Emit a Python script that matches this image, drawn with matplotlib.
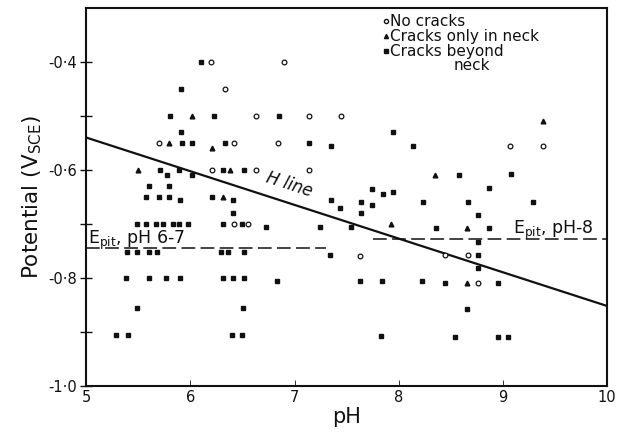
import matplotlib
matplotlib.use("Agg")
import matplotlib.pyplot as plt
from matplotlib.lines import Line2D

plt.rcParams['font.family'] = ['DejaVu Sans']

# ============================
# DATOS
# ============================
# Sin grietas (circulos abiertos)
ph_sin = [6.2, 6.9, 6.33, 6.63, 7.14, 7.45, 5.7, 6.42, 6.84, 6.21, 6.63, 7.14,
          6.42, 6.55, 7.63, 8.44, 8.66, 8.76, 9.07, 9.38]
v_sin = [-0.40, -0.40, -0.45, -0.50, -0.50, -0.50, -0.55, -0.55, -0.55, -0.60, -0.60, -0.60,
         -0.70, -0.70, -0.76, -0.757, -0.757, -0.81, -0.555, -0.555]

# Grietas solo en el cuello
ph_cuello = [6.02, 5.8, 6.21, 5.5, 6.38, 6.31, 7.93, 8.65, 8.65, 9.38, 8.35]
v_cuello = [-0.50, -0.55, -0.56, -0.60, -0.60, -0.65, -0.70, -0.707, -0.81, -0.51, -0.61]

# Grietas mas alla del cuello
ph_mas = [6.1, 5.91, 5.81, 6.23, 6.85, 5.91, 7.94,
          5.92, 6.02, 6.33, 7.14, 7.35, 8.14,
          5.71, 5.78, 5.89, 6.02, 6.31, 6.52, 8.58, 9.08,
          5.6, 5.8, 8.87, 7.74, 7.94, 7.85,
          5.58, 5.7, 5.8, 5.9, 6.21, 6.41,
          7.35, 7.44, 7.64, 7.74, 8.23, 8.66, 9.29,
          6.41, 7.64, 8.76,
          5.49, 5.58, 5.67, 5.74, 5.83, 5.89, 5.98, 6.31, 6.5, 6.73, 7.24, 7.54, 8.36, 8.87,
          8.76,
          5.39, 5.49, 5.6, 5.68, 6.29, 6.36, 6.52, 7.34, 8.76,
          8.76,
          5.38, 5.6, 5.77, 5.9, 6.31, 6.41, 6.52, 6.83, 7.63, 7.84, 8.22, 8.44, 8.95,
          5.49, 6.51, 8.65,
          5.29, 5.4, 6.4, 6.5, 7.83, 8.54, 8.95, 9.05]
v_mas = [-0.40, -0.45, -0.50, -0.50, -0.50, -0.53, -0.53,
         -0.55, -0.55, -0.55, -0.55, -0.555, -0.555,
         -0.60, -0.61, -0.60, -0.61, -0.60, -0.60, -0.61, -0.607,
         -0.63, -0.63, -0.633, -0.635, -0.64, -0.645,
         -0.65, -0.65, -0.65, -0.655, -0.65, -0.655,
         -0.655, -0.67, -0.66, -0.665, -0.66, -0.66, -0.66,
         -0.68, -0.68, -0.683,
         -0.70, -0.70, -0.70, -0.70, -0.70, -0.70, -0.70, -0.70, -0.70, -0.705, -0.705, -0.705, -0.707, -0.707,
         -0.733,
         -0.752, -0.752, -0.752, -0.752, -0.752, -0.752, -0.752, -0.757, -0.757,
         -0.781,
         -0.80, -0.80, -0.80, -0.80, -0.80, -0.80, -0.80, -0.805, -0.805, -0.805, -0.805, -0.81, -0.81,
         -0.855, -0.855, -0.857,
         -0.905, -0.905, -0.905, -0.905, -0.907, -0.909, -0.909, -0.909]

# Linea H y potenciales de picadura
ph_linea_h = [5, 10]
v_linea_h = [-0.54, -0.852]
ph_epit_67 = [5, 7.3]
v_epit_67 = [-0.744, -0.744]
ph_epit_8 = [7.75, 10]
v_epit_8 = [-0.727, -0.727]

ticks_x = [5, 6, 7, 8, 9, 10]
ticks_y = [-0.4, -0.6, -0.8, -1.0]
etiquetas_y = ['-0·4', '-0·6', '-0·8', '-1·0']
ticks_y_menor = [-0.5, -0.7, -0.9]

negro = '#111111'

# ============================
# FIGURA
# ============================
fig = plt.figure(figsize=(6.19, 4.47), dpi=100)
ax = fig.add_axes([0.139, 0.1365, 0.842, 0.846])

ax.plot(ph_linea_h, v_linea_h, color=negro, lw=1.6)
ax.plot(ph_epit_67, v_epit_67, color=negro, lw=1.1, dashes=(9, 3.5))
ax.plot(ph_epit_8, v_epit_8, color=negro, lw=1.1, dashes=(9, 3.5))

ax.plot(ph_sin, v_sin, 'o', ms=3.4, mfc='white', mec=negro, mew=0.9, ls='none')
ax.plot(ph_cuello, v_cuello, '^', ms=3.4, color=negro, ls='none')
ax.plot(ph_mas, v_mas, 's', ms=3.0, color=negro, ls='none')

ax.text(6.95, -0.627, 'H line', rotation=-18, style='italic', fontsize=12,
        ha='center', va='center', color=negro)
ax.text(5.02, -0.737, r'E$_{\mathregular{pit}}$, pH 6-7', fontsize=12.5, color=negro,
        ha='left', va='baseline')
ax.text(9.1, -0.718, r'E$_{\mathregular{pit}}$, pH-8', fontsize=12.5, color=negro,
        ha='left', va='baseline')

# Leyenda
handles = [
    Line2D([], [], marker='o', ms=3, mfc='white', mec=negro, ls='none'),
    Line2D([], [], marker='^', ms=3, color=negro, ls='none'),
    Line2D([], [], marker='s', ms=2.6, color=negro, ls='none'),
]
labels = ['No cracks', 'Cracks only in neck', 'Cracks beyond']
leg = ax.legend(handles, labels, loc='upper left', bbox_to_anchor=(0.55, 1.012),
                frameon=False, fontsize=11, handlelength=0.3, handletextpad=0.15,
                labelspacing=0.0, borderpad=0.2)
for t in leg.get_texts():
    t.set_color(negro)
ax.text(0.74, 0.848, 'neck', transform=ax.transAxes, fontsize=11, color=negro,
        ha='center', va='center')

ax.set_xlim(5, 10)
ax.set_ylim(-1.0, -0.3)
ax.set_xticks(ticks_x)
ax.set_xticklabels([str(t) for t in ticks_x])
ax.set_yticks(ticks_y)
ax.set_yticklabels(etiquetas_y)
ax.set_yticks(ticks_y_menor, minor=True)

ax.tick_params(axis='y', which='both', direction='inout', length=9, width=1, labelsize=10.5,
               colors=negro, pad=2)
ax.tick_params(axis='x', which='major', direction='in', length=4, width=0.6, labelsize=10.5,
               colors=negro, pad=3)

for lado in ['left', 'bottom', 'top', 'right']:
    ax.spines[lado].set_linewidth(1.5)
    ax.spines[lado].set_color(negro)

ax.set_xlabel('pH', fontsize=15, color=negro, labelpad=1)
ax.set_ylabel(r'Potential (V$_{\mathregular{SCE}}$)', fontsize=15.5, color=negro, labelpad=3)

fig.savefig('out.png', dpi=100, facecolor='white')
